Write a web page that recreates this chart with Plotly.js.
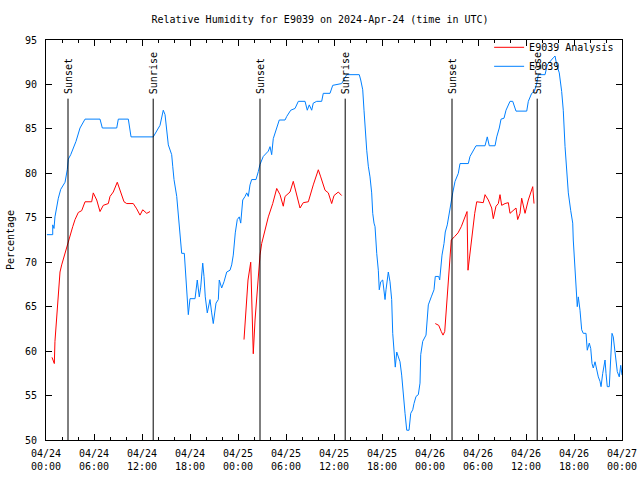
<!DOCTYPE html>
<html>
<head>
<meta charset="utf-8">
<script src="https://cdn.plot.ly/plotly-3.0.1.min.js"></script>
<style>html,body{margin:0;padding:0;background:#fff;}#chart{width:640px;height:480px;}</style>
</head>
<body>
<div id="chart"></div>
<script>
// Start of the time axis (UTC), hours below are offsets from it
var startDate = "2024-04-24 00:00:00";
var endDate = "2024-04-27 00:00:00";

// E9039 observations: hours since start, relative humidity (%)
var obsHours = [0.12,0.84,0.84,1.0,1.12,1.34,1.54,1.84,2.38,2.66,2.79,3.09,3.41,3.75,4.25,4.88,6.75,7.04,8.84,9.04,10.29,10.63,13.41,13.84,14.25,14.66,14.88,15.29,15.71,15.84,16.0,16.34,16.54,16.75,16.96,17.29,17.5,17.71,17.79,18.0,18.63,18.91,19.16,19.34,19.59,19.75,19.91,20.16,20.5,20.71,20.91,21.25,21.54,21.66,21.96,22.25,22.59,23.0,23.21,23.41,23.66,23.91,24.16,24.34,24.59,24.88,25.09,25.29,25.5,25.71,26.25,26.54,26.75,27.16,27.38,27.79,28.0,28.21,28.41,28.75,29.16,29.88,30.09,30.59,31.13,31.54,32.38,32.66,32.91,33.21,33.41,33.84,34.46,34.66,35.5,35.84,36.96,37.59,39.16,39.34,39.59,39.75,39.88,40.09,40.29,40.5,40.71,40.84,41.0,41.13,41.34,41.54,41.66,41.84,42.09,42.25,42.38,42.5,42.66,42.79,43.0,43.21,43.34,43.5,43.66,43.84,44.04,44.25,44.46,44.66,44.88,45.09,45.38,45.59,45.84,46.0,46.25,46.54,46.75,46.84,47.09,47.5,47.66,47.79,48.16,48.5,48.66,49.09,49.21,49.34,49.5,49.75,49.91,50.16,50.34,50.59,50.84,51.13,51.54,51.75,52.79,53.0,53.41,53.75,54.88,55.16,55.41,56.13,56.34,56.66,56.88,57.25,57.5,58.0,58.34,58.75,60.09,60.29,60.71,61.04,61.34,61.54,62.38,62.66,63.41,63.63,63.84,64.16,64.46,64.66,64.88,65.09,65.29,65.59,65.84,65.91,66.13,66.25,66.41,66.54,66.75,66.96,67.16,67.5,67.66,67.91,68.09,68.25,68.41,68.63,68.84,69.04,69.25,69.38,69.59,69.75,69.88,70.0,70.16,70.41,70.59,70.75,70.91,71.13,71.41,71.66,71.84,72.0];
var obsRH = [73.1,73.1,74.2,73.8,75.1,76.4,77.2,78.2,79.0,80.4,81.6,82.1,82.8,83.6,85.1,86.1,86.1,85.1,85.1,86.1,86.1,84.1,84.1,84.7,85.4,87.1,86.6,83.2,82.1,80.8,79.3,77.4,75.1,72.5,71.0,71.0,68.0,65.0,64.1,65.9,65.9,68.0,66.1,67.2,69.9,68.4,66.1,64.3,65.8,64.3,63.1,65.4,65.8,68.0,67.1,67.8,68.9,69.1,69.7,70.8,73.3,74.8,75.1,74.4,77.0,77.4,77.8,77.4,78.7,79.3,79.3,80.2,81.0,81.9,82.1,82.5,83.0,82.1,83.9,84.9,86.0,86.0,86.4,87.1,87.3,88.1,88.1,87.1,87.7,87.1,87.9,88.1,88.1,89.0,89.0,89.9,90.1,91.1,91.1,90.5,89.4,87.1,85.2,82.6,80.8,79.6,77.8,75.5,74.4,74.0,71.0,69.1,66.9,67.8,68.0,66.9,65.8,66.9,68.0,68.9,67.8,65.8,62.0,60.1,58.2,59.9,59.4,58.8,57.3,55.6,53.0,51.1,51.1,53.0,53.4,54.1,54.9,55.1,56.4,59.6,61.1,61.8,64.3,65.2,66.1,66.9,68.4,68.4,68.0,69.5,70.8,72.1,73.4,74.2,75.3,76.6,77.8,79.1,80.0,81.1,81.1,81.9,82.6,83.1,83.1,84.1,83.1,83.1,84.1,85.1,86.1,86.2,87.1,88.1,88.1,87.0,87.0,88.1,89.0,89.2,90.1,91.1,91.1,92.2,93.0,93.2,92.2,91.3,89.2,87.1,83.0,80.5,77.8,75.8,74.4,72.5,69.5,67.2,65.0,66.1,64.6,62.4,62.0,62.0,60.1,60.9,60.3,58.6,58.1,58.8,57.7,57.1,56.6,56.0,57.5,58.4,59.0,57.5,56.0,56.0,59.0,62.0,61.6,59.7,57.7,57.1,58.4,57.3];

// E9039 Analysis: hours since start, relative humidity (%); null = gap
var anaHours = [0.75,1.04,1.12,1.41,1.54,1.75,1.96,2.25,2.59,2.79,3.0,3.34,3.63,4.04,4.46,4.88,5.71,5.91,6.34,6.75,7.16,7.79,8.0,8.41,8.91,9.25,9.75,10.09,10.91,11.34,11.75,12.09,12.59,13.0,
  null,
  24.75,25.0,25.25,25.59,25.69,25.81,25.91,26.13,26.38,26.63,26.75,26.96,27.38,27.79,28.34,28.84,29.25,29.66,29.88,30.5,30.91,31.34,31.75,32.16,32.79,33.41,34.04,34.34,34.88,35.29,35.71,36.0,36.54,36.96,
  null,
  48.66,49.09,49.41,49.63,49.84,50.04,50.25,50.46,50.66,51.09,51.5,51.91,52.34,52.63,52.75,52.96,53.25,53.59,53.84,54.66,54.88,55.29,55.71,55.91,56.25,56.54,56.75,56.96,57.38,57.79,58.0,58.41,58.75,58.96,59.25,59.46,59.88,60.29,60.5,60.84,61.0];
var anaRH = [59.3,58.6,61.1,64.6,67.2,68.9,69.7,70.6,71.7,72.5,73.2,74.0,74.8,75.6,75.8,76.8,76.8,77.8,77.0,75.7,76.4,76.6,77.4,77.9,79.0,78.1,76.8,76.6,76.6,76.0,75.3,75.9,75.5,75.7,
  null,
  61.3,64.5,68.0,70.0,66.0,61.0,59.7,63.5,66.9,69.7,70.8,72.1,73.6,75.1,76.6,78.3,77.6,76.3,77.4,77.9,79.1,77.4,76.1,76.7,76.8,78.7,80.4,79.6,78.1,77.8,76.6,77.5,77.9,77.5,
  null,
  63.1,62.9,62.2,61.8,62.2,64.6,66.9,69.5,72.5,72.9,73.3,74.0,75.1,75.7,69.1,70.6,73.3,75.5,76.8,76.7,77.6,77.0,76.1,74.9,76.3,76.6,77.6,76.4,76.6,76.7,75.5,75.8,76.1,74.8,75.5,77.2,75.5,77.0,77.6,78.5,76.6];

// Sun events: hours since start, labels
var sunHours = [2.75, 13.4, 26.75, 37.4, 50.75, 61.4];
var sunLabels = ["Sunset", "Sunrise", "Sunset", "Sunrise", "Sunset", "Sunrise"];

var baseMs = Date.UTC(2024, 3, 24, 0, 0, 0);
function toDate(h) {
  if (h === null) return null;
  var d = new Date(baseMs + h * 3600000);
  return d.toISOString().slice(0, 19).replace('T', ' ');
}

var mono = "DejaVu Sans Mono, Liberation Mono, monospace";

var traces = [
  {
    x: anaHours.map(toDate), y: anaRH, name: "E9039 Analysis",
    type: "scatter", mode: "lines", connectgaps: false,
    line: {color: "#ff0000", width: 1}
  },
  {
    x: obsHours.map(toDate), y: obsRH, name: "E9039",
    type: "scatter", mode: "lines",
    line: {color: "#0080ff", width: 1}
  }
];

var shapes = sunHours.map(function (h) {
  return {type: "line", xref: "x", yref: "y", x0: toDate(h), x1: toDate(h), y0: 50, y1: 88.4,
          line: {color: "#000000", width: 1}, layer: "above"};
});
var annotations = sunHours.map(function (h, i) {
  return {xref: "x", yref: "y", x: toDate(h), y: 88.7, text: sunLabels[i], textangle: -90,
          showarrow: false, xanchor: "center", yanchor: "bottom",
          font: {family: mono, size: 10, color: "#000"}};
});

var layout = {
  width: 640, height: 480,
  paper_bgcolor: "#ffffff", plot_bgcolor: "#ffffff",
  margin: {l: 46, r: 18, t: 40, b: 40, pad: 0},
  font: {family: mono, size: 10, color: "#000"},
  title: {text: "Relative Humidity for E9039 on 2024-Apr-24 (time in UTC)",
          font: {family: mono, size: 10, color: "#000"}, x: 0.5, xanchor: "center", y: 0.96, yanchor: "middle"},
  showlegend: true,
  legend: {x: 0.995, y: 1.018, xanchor: "right", yanchor: "top", bgcolor: "rgba(0,0,0,0)",
           font: {family: mono, size: 10}, tracegroupgap: 0, itemwidth: 30},
  xaxis: {
    type: "date", range: [startDate, endDate],
    tick0: startDate, dtick: 6 * 3600000, tickformat: "%m/%d<br>%H:%M",
    ticks: "inside", ticklen: 6, tickcolor: "#000", tickwidth: 1,
    minor: {dtick: 2 * 3600000, ticks: "inside", ticklen: 3, tickcolor: "#000"},
    showline: true, linecolor: "#000", linewidth: 1, mirror: "allticks",
    showgrid: false, zeroline: false, ticklabelstandoff: 4,
    tickfont: {family: mono, size: 10}
  },
  yaxis: {
    range: [50, 95], dtick: 5, tick0: 50,
    ticks: "inside", ticklen: 6, tickcolor: "#000",
    showline: true, linecolor: "#000", linewidth: 1, mirror: "allticks",
    showgrid: false, zeroline: false, ticklabelstandoff: 6,
    title: {text: "Percentage", font: {family: mono, size: 10}, standoff: 8},
    tickfont: {family: mono, size: 10}
  },
  shapes: shapes,
  annotations: annotations
};

Plotly.newPlot("chart", traces, layout, {displayModeBar: false, staticPlot: true});
</script>
</body>
</html>
